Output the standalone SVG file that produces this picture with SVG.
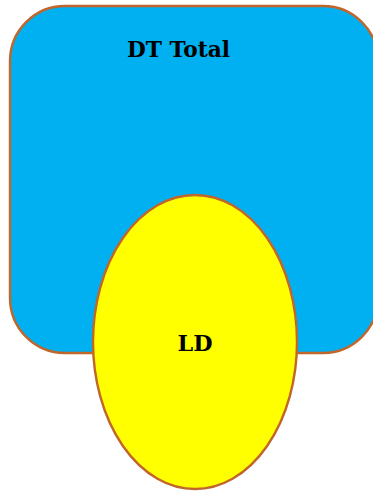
<svg xmlns="http://www.w3.org/2000/svg" width="373" height="491" viewBox="0 0 373 491">
  <style>
    .shape { stroke: #C0662B; stroke-width: 2.4; }
    .label { font-family: "DejaVu Serif", "Liberation Serif", serif; font-weight: bold; font-size: 21.5px; fill: #000; text-anchor: middle; }
  </style>
  <rect width="373" height="491" fill="#FFFFFF"/>
  <g id="dt-total">
    <rect class="shape" x="10" y="6" width="368" height="347" rx="55" ry="55" fill="#00B0F0"/>
    <text class="label" x="178.5" y="57" textLength="103" lengthAdjust="spacingAndGlyphs">DT Total</text>
  </g>
  <g id="ld">
    <ellipse class="shape" cx="195" cy="342" rx="102" ry="147" fill="#FFFF00"/>
    <text class="label" x="195" y="350.5" textLength="35" lengthAdjust="spacingAndGlyphs">LD</text>
  </g>
  <g id="connectors"></g>
</svg>
